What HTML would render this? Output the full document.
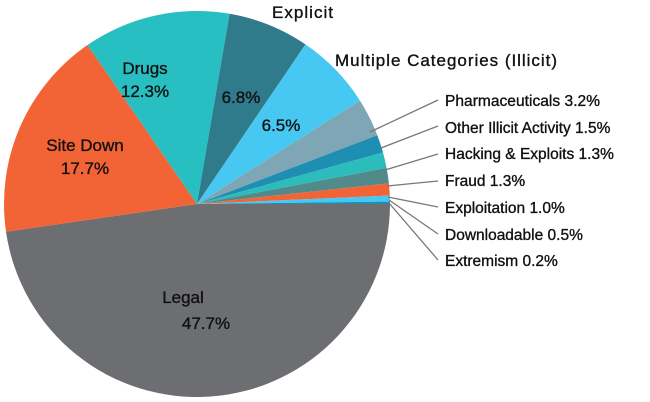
<!DOCTYPE html>
<html><head><meta charset="utf-8"><style>
body{margin:0;background:#fff;}
svg{display:block;font-family:"Liberation Sans",sans-serif;}
text{fill:#111;stroke:#111;stroke-width:0.35;}
.r{font-size:15.5px;}
.p{font-size:17px;}
</style></head><body>
<svg id="s" width="650" height="402" viewBox="0 0 650 402">
<g id="pie"></g>
<g stroke="#777" stroke-width="1.3" fill="none">
<polyline points="370,132 438,100"/>
<polyline points="381,148 438,126"/>
<polyline points="385,170 438,154"/>
<polyline points="387,186 438,181"/>
<polyline points="388,197 438,207"/>
<polyline points="389,200 438,234"/>
<polyline points="389,203 438,260"/>
</g>
<text class="r" x="445" y="106" textLength="155">Pharmaceuticals 3.2%</text>
<text class="r" x="445" y="133">Other Illicit Activity 1.5%</text>
<text class="r" x="445" y="159">Hacking &amp; Exploits 1.3%</text>
<text class="r" x="445" y="186">Fraud 1.3%</text>
<text class="r" x="445" y="213">Exploitation 1.0%</text>
<text class="r" x="445" y="240">Downloadable 0.5%</text>
<text class="r" x="445" y="266">Extremism 0.2%</text>
<text class="p" x="272" y="18" textLength="61">Explicit</text>
<text class="p" x="335" y="66" textLength="222">Multiple Categories (Illicit)</text>
<text class="p" x="145" y="74" text-anchor="middle">Drugs</text>
<text class="p" x="145" y="97" text-anchor="middle">12.3%</text>
<text class="p" x="85" y="151" text-anchor="middle">Site Down</text>
<text class="p" x="85" y="174" text-anchor="middle">17.7%</text>
<text class="p" x="241" y="103" text-anchor="middle">6.8%</text>
<text class="p" x="281" y="131" text-anchor="middle">6.5%</text>
<text class="p" x="183" y="303" text-anchor="middle">Legal</text>
<text class="p" x="206" y="329" text-anchor="middle">47.7%</text>
</svg>
<script>
var d=[[47.7,"#6d6e71"],[17.7,"#f26335"],[12.3,"#27bfc1"],[6.8,"#2f7a8b"],[6.5,"#47c8f2"],[3.2,"#7fa6b5"],[1.5,"#1e8fb2"],[1.3,"#2cbcbc"],[1.3,"#528a8c"],[1.0,"#f26335"],[0.5,"#47c8f2"],[0.2,"#1e8fb2"]];
var cx=197,cy=204,r=193,a=0,h="";
d.forEach(function(e){var a2=a+e[0]/100*2*Math.PI;
var x1=cx+r*Math.cos(a),y1=cy+r*Math.sin(a),x2=cx+r*Math.cos(a2),y2=cy+r*Math.sin(a2);
h+='<path fill="'+e[1]+'" d="M'+cx+','+cy+'L'+x1+','+y1+'A'+r+','+r+' 0 '+((a2-a)>Math.PI?1:0)+' 1 '+x2+','+y2+'Z"/>';a=a2;});
document.getElementById("pie").innerHTML=h;
</script>
</body></html>
